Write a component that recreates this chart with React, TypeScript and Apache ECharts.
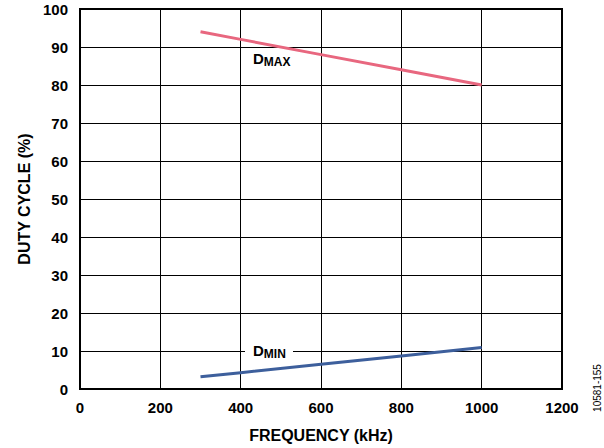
import React, { useEffect, useRef } from "react";
import * as echarts from "echarts";

const frequency = [300, 400, 600, 800, 1000];
const dMax = [94, 92, 88, 84, 80];
const dMin = [3.2, 4.3, 6.5, 8.7, 10.9];

const FONT = "'Liberation Sans', Arial, sans-serif";

export default function App() {
  const ref = useRef<HTMLDivElement>(null);
  useEffect(() => {
    const chart = echarts.init(ref.current!, undefined, { renderer: "svg" });
    const tick = { color: "#000", fontFamily: FONT, fontWeight: "bold" as const, fontSize: 15 };
    const nameStyle = { ...tick, fontSize: 16 };
    chart.setOption({
      animation: false,
      backgroundColor: "#fff",
      grid: {
        left: 80,
        right: 42,
        top: 9,
        bottom: 58,
        show: true,
        borderColor: "#000",
        borderWidth: 2,
        containLabel: false,
      },
      xAxis: {
        type: "value",
        min: 0,
        max: 1200,
        interval: 200,
        name: "FREQUENCY (kHz)",
        nameLocation: "middle",
        nameGap: 38,
        nameTextStyle: nameStyle,
        axisLine: { show: true, lineStyle: { color: "#000", width: 2 } },
        axisTick: { show: false },
        axisLabel: { ...tick, margin: 11, formatter: (v: number) => String(v) },
        splitLine: { show: true, lineStyle: { color: "#000", width: 1 } },
      },
      yAxis: {
        type: "value",
        min: 0,
        max: 100,
        interval: 10,
        name: "DUTY CYCLE (%)",
        nameLocation: "middle",
        nameGap: 48,
        nameTextStyle: nameStyle,
        axisLine: { show: true, lineStyle: { color: "#000", width: 2 } },
        axisTick: { show: false },
        axisLabel: { ...tick, margin: 12, formatter: (v: number) => String(v) },
        splitLine: { show: true, lineStyle: { color: "#000", width: 1 } },
      },
      series: [
        {
          name: "DMAX",
          type: "line",
          data: frequency.map((f, i) => [f, dMax[i]]),
          showSymbol: false,
          lineStyle: { color: "#e8677f", width: 3 },
          z: 5,
        },
        {
          name: "DMIN",
          type: "line",
          data: frequency.map((f, i) => [f, dMin[i]]),
          showSymbol: false,
          lineStyle: { color: "#3d5f9c", width: 3 },
          z: 5,
        },
      ],
      graphic: [
        {
          type: "text",
          left: 253,
          top: 51,
          z: 10,
          style: {
            text: "{d|D}{s|MAX}",
            rich: {
              d: { fontFamily: FONT, fontWeight: "bold", fontSize: 15, fill: "#000" },
              s: { fontFamily: FONT, fontWeight: "bold", fontSize: 12, fill: "#000", padding: [6, 0, 0, 0] },
            },
          },
        },
        {
          type: "rect",
          z: 9,
          shape: { x: 245, y: 344, width: 48, height: 16 },
          style: { fill: "#fff" },
        },
        {
          type: "text",
          left: 253,
          top: 343,
          z: 10,
          style: {
            text: "{d|D}{s|MIN}",
            rich: {
              d: { fontFamily: FONT, fontWeight: "bold", fontSize: 15, fill: "#000" },
              s: { fontFamily: FONT, fontWeight: "bold", fontSize: 12, fill: "#000", padding: [6, 0, 0, 0] },
            },
          },
        },
        {
          type: "text",
          x: 597,
          y: 388,
          rotation: Math.PI / 2,
          style: {
            text: "10581-155",
            fontFamily: FONT,
            fontSize: 10,
            fill: "#000",
            align: "center",
            verticalAlign: "middle",
          },
        },
      ],
    });
    return () => chart.dispose();
  }, []);
  return <div ref={ref} style={{ width: 604, height: 448, position: "absolute", left: 0, top: 0 }} />;
}
